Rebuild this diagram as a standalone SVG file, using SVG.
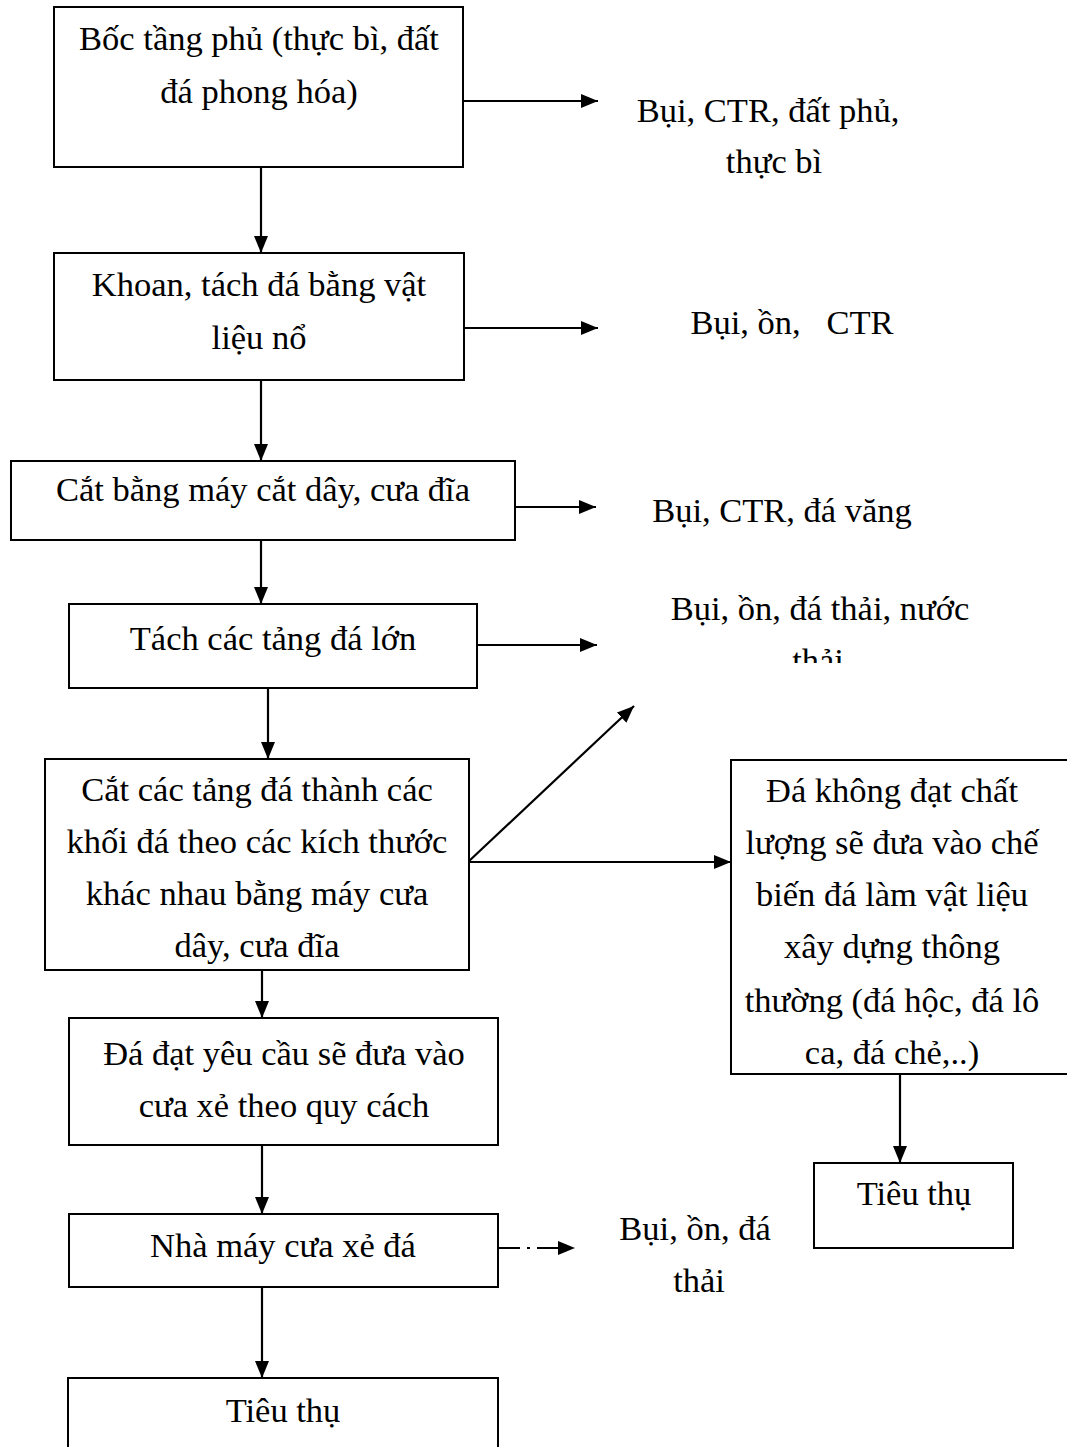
<svg xmlns="http://www.w3.org/2000/svg" width="1067" height="1447" viewBox="0 0 1067 1447">
<style>
.box{fill:#fff;stroke:#000;stroke-width:2}
.t{font-family:"Liberation Serif","Times New Roman",serif;font-size:34.5px;fill:#000;text-anchor:middle;white-space:pre}
.c{stroke:#000;stroke-width:2.2;fill:none}
</style>
<defs>
<marker id="ah" markerUnits="userSpaceOnUse" markerWidth="18" markerHeight="15" refX="17" refY="7" orient="auto">
<path d="M0,0 L17,7 L0,14 z" fill="#000"/>
</marker>
<clipPath id="cut"><rect x="600" y="560" width="467" height="103"/></clipPath>
</defs>
<rect width="1067" height="1447" fill="#fff"/>
<g id="connectors">
<line class="c" x1="463" y1="101" x2="598" y2="101" marker-end="url(#ah)"/>
<line class="c" x1="261" y1="167" x2="261" y2="253" marker-end="url(#ah)"/>
<line class="c" x1="464" y1="328" x2="598" y2="328" marker-end="url(#ah)"/>
<line class="c" x1="261" y1="380" x2="261" y2="461" marker-end="url(#ah)"/>
<line class="c" x1="515" y1="507" x2="596" y2="507" marker-end="url(#ah)"/>
<line class="c" x1="261" y1="540" x2="261" y2="604" marker-end="url(#ah)"/>
<line class="c" x1="477" y1="645" x2="597" y2="645" marker-end="url(#ah)"/>
<line class="c" x1="268" y1="688" x2="268" y2="759" marker-end="url(#ah)"/>
<line class="c" x1="468" y1="862" x2="634" y2="706" marker-end="url(#ah)"/>
<line class="c" x1="468" y1="862" x2="731" y2="862" marker-end="url(#ah)"/>
<line class="c" x1="262" y1="947" x2="262" y2="1018" marker-end="url(#ah)"/>
<line class="c" x1="262" y1="1145" x2="262" y2="1214" marker-end="url(#ah)"/>
<line class="c" x1="498" y1="1248" x2="575" y2="1248" stroke-dasharray="22,7,3,7" marker-end="url(#ah)"/>
<line class="c" x1="262" y1="1287" x2="262" y2="1378" marker-end="url(#ah)"/>
<line class="c" x1="900" y1="1074" x2="900" y2="1163" marker-end="url(#ah)"/>
</g>
<g id="n1"><rect class="box" x="54" y="7" width="409" height="160"/>
<text class="t" x="259" y="50">Bốc tầng phủ (thực bì, đất</text>
<text class="t" x="259" y="103">đá phong hóa)</text></g>
<g id="l1"><text class="t" x="768" y="122">Bụi, CTR, đất phủ,</text>
<text class="t" x="774" y="173">thực bì</text></g>
<g id="n2"><rect class="box" x="54" y="253" width="410" height="127"/>
<text class="t" x="259" y="296">Khoan, tách đá bằng vật</text>
<text class="t" x="259" y="349">liệu nổ</text></g>
<g id="l2"><text class="t" x="792" y="334">Bụi, ồn,   CTR</text></g>
<g id="n3"><rect class="box" x="11" y="461" width="504" height="79"/>
<text class="t" x="263" y="501">Cắt bằng máy cắt dây, cưa đĩa</text></g>
<g id="l3"><text class="t" x="782" y="522">Bụi, CTR, đá văng</text></g>
<g id="n4"><rect class="box" x="69" y="604" width="408" height="84"/>
<text class="t" x="273" y="650">Tách các tảng đá lớn</text></g>
<g id="l4"><text class="t" x="820" y="620">Bụi, ồn, đá thải, nước</text>
<text class="t" x="818" y="672" clip-path="url(#cut)">thải</text></g>
<g id="n5"><rect class="box" x="45" y="759" width="424" height="211"/>
<text class="t" x="257" y="801">Cắt các tảng đá thành các</text>
<text class="t" x="257" y="853">khối đá theo các kích thước</text>
<text class="t" x="257" y="905">khác nhau bằng máy cưa</text>
<text class="t" x="257" y="957">dây, cưa đĩa</text></g>
<g id="n9"><rect class="box" x="731" y="760" width="340" height="314"/>
<text class="t" x="892" y="802">Đá không đạt chất</text>
<text class="t" x="892" y="854">lượng sẽ đưa vào chế</text>
<text class="t" x="892" y="906">biến đá làm vật liệu</text>
<text class="t" x="892" y="958">xây dựng thông</text>
<text class="t" x="892" y="1012">thường (đá hộc, đá lô</text>
<text class="t" x="892" y="1064">ca, đá chẻ,..)</text></g>
<g id="n6"><rect class="box" x="69" y="1018" width="429" height="127"/>
<text class="t" x="284" y="1065">Đá đạt yêu cầu sẽ đưa vào</text>
<text class="t" x="284" y="1117">cưa xẻ theo quy cách</text></g>
<g id="n7"><rect class="box" x="69" y="1214" width="429" height="73"/>
<text class="t" x="283" y="1257">Nhà máy cưa xẻ đá</text></g>
<g id="l7"><text class="t" x="695" y="1240">Bụi, ồn, đá</text>
<text class="t" x="699" y="1292">thải</text></g>
<g id="n8"><rect class="box" x="68" y="1378" width="430" height="80"/>
<text class="t" x="283" y="1422">Tiêu thụ</text></g>
<g id="n10"><rect class="box" x="814" y="1163" width="199" height="85"/>
<text class="t" x="914" y="1205">Tiêu thụ</text></g>
</svg>
